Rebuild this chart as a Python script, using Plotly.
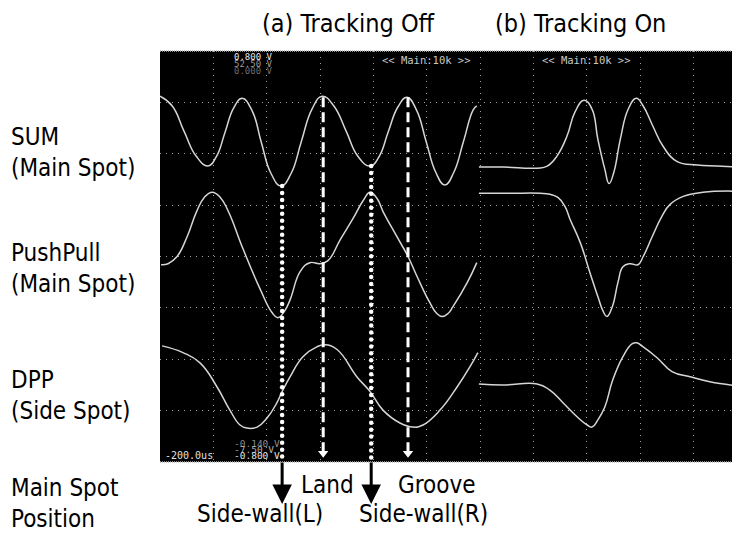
import numpy as np
import plotly.graph_objects as go

# ---------------- data (screen divisions: x = time div, y = level div) ----------------
sum_a_t = [0, 0.23, 0.45, 0.68, 0.90, 1.06, 1.22, 1.38, 1.54, 1.73, 1.90, 2.08, 2.27, 2.46, 2.65,
           2.85, 3.04, 3.26, 3.49, 3.71, 3.94, 4.11, 4.28, 4.46, 4.63, 4.81, 4.99, 5.17, 5.34,
           5.51, 5.69, 5.87, 5.94]
sum_a_v = [7.12, 6.93, 6.44, 5.95, 5.76, 5.95, 6.42, 6.89, 7.08, 6.83, 6.22, 5.62, 5.37, 5.62, 6.24,
           6.87, 7.12, 6.93, 6.44, 5.95, 5.76, 5.95, 6.43, 6.91, 7.10, 6.85, 6.24, 5.64, 5.39,
           5.64, 6.24, 6.85, 6.93]

pp_a_t = [0.02, 0.15, 0.32, 0.51, 0.68, 0.83, 0.98, 1.13, 1.28, 1.56, 1.88, 2.10, 2.21, 2.33, 2.44,
          2.63, 2.81, 3.00, 3.15, 3.38, 3.62, 3.81, 3.94, 4.07, 4.18, 4.44, 4.65, 4.82, 5.06,
          5.19, 5.29, 5.40, 5.49, 5.76, 5.94]
pp_a_v = [3.84, 3.86, 4.00, 4.39, 4.86, 5.15, 5.25, 5.15, 4.88, 4.14, 3.36, 2.91, 2.81, 2.93, 3.16,
          3.71, 3.88, 3.86, 3.92, 4.33, 4.74, 5.09, 5.25, 5.13, 4.88, 4.39, 4.00, 3.61, 3.10,
          2.89, 2.83, 2.89, 3.02, 3.49, 3.88]

dpp_a_t = [0.04, 0.43, 0.75, 1.07, 1.31, 1.50, 1.63, 1.82, 2.01, 2.19, 2.29, 2.44, 2.68, 2.94, 3.09,
           3.32, 3.69, 3.94, 4.18, 4.50, 4.74, 4.93, 5.25, 5.57, 5.81, 5.96]
dpp_a_v = [2.26, 2.13, 1.93, 1.46, 1.01, 0.72, 0.66, 0.68, 0.86, 1.15, 1.37, 1.66, 2.05, 2.24, 2.28,
           2.19, 1.66, 1.37, 1.01, 0.76, 0.68, 0.72, 1.01, 1.46, 1.85, 2.13]

sum_b_t = [5.98, 6.43, 7.07, 7.26, 7.44, 7.63, 7.78, 7.95, 8.10, 8.21, 8.34, 8.42, 8.51, 8.63, 8.78,
           8.93, 9.06, 9.24, 9.43, 9.69, 10.07, 10.44, 10.86]
sum_b_v = [5.74, 5.74, 5.72, 5.76, 5.95, 6.34, 6.81, 7.04, 6.87, 6.28, 5.70, 5.42, 5.64, 6.28, 6.87,
           7.08, 6.93, 6.54, 6.15, 5.85, 5.78, 5.76, 5.74]

pp_b_t = [5.98, 6.56, 7.13, 7.31, 7.46, 7.59, 7.69, 7.88, 8.06, 8.21, 8.31, 8.38, 8.48, 8.59, 8.68,
          8.81, 8.96, 9.06, 9.23, 9.41, 9.56, 9.81, 10.18, 10.86]
pp_b_v = [5.23, 5.23, 5.23, 5.21, 5.15, 4.98, 4.72, 4.27, 3.69, 3.22, 2.93, 2.83, 3.02, 3.51, 3.80,
          3.86, 3.84, 4.00, 4.39, 4.78, 5.01, 5.17, 5.25, 5.27]

dpp_b_t = [5.98, 6.43, 7.07, 7.31, 7.56, 7.82, 8.01, 8.10, 8.21, 8.34, 8.49, 8.68, 8.85, 8.94, 9.06,
           9.32, 9.60, 9.94, 10.31, 10.86]
dpp_b_v = [1.52, 1.50, 1.52, 1.40, 1.15, 0.88, 0.72, 0.68, 0.82, 1.07, 1.60, 2.05, 2.30, 2.32, 2.24,
           2.03, 1.76, 1.66, 1.56, 1.48]

# marker positions (time div) and their top levels
sidewall_t = [2.29, 3.96]          # Side-wall(L), Side-wall(R)
sidewall_top = [5.37, 5.76]
landgroove_t = [3.06, 4.65]        # Land, Groove
landgroove_top = [7.10, 7.10]

row_labels = ["SUM<br>(Main Spot)", "PushPull<br>(Main Spot)", "DPP<br>(Side Spot)", "Main Spot<br>Position"]
titles = ["(a) Tracking Off", "(b) Tracking On"]
pos_labels = ["Land", "Groove", "Side-wall(L)", "Side-wall(R)"]

# ---------------- layout geometry ----------------
OFF = 8                      # page body margin of the browser
W, H = 740 - OFF, 534 - OFF
ML, MR, MT, MB = 160 - OFF, 0, 51 - OFF, 72
XMAX, YMAX = 10.875, 8
PW, PH = W - ML - MR, H - MT - MB


def px_x(px):
    return (px - OFF - ML) / PW


def px_y(py):
    return (H - MB - (py - OFF)) / PH


FONT = "DejaVu Sans Condensed, DejaVu Sans, sans-serif"
MONO = "DejaVu Sans Mono, monospace"
TRACE = dict(color="#d6d6d6", width=1.5, shape="spline", smoothing=1.3)

fig = go.Figure()
for t, v in [(sum_a_t, sum_a_v), (pp_a_t, pp_a_v), (dpp_a_t, dpp_a_v),
             (sum_b_t, sum_b_v), (pp_b_t, pp_b_v), (dpp_b_t, dpp_b_v)]:
    fig.add_trace(go.Scatter(x=t, y=v, mode="lines", line=TRACE, hoverinfo="skip"))

# dotted side-wall markers
for t0, top in zip(sidewall_t, sidewall_top):
    ys = np.arange(top, 0.05, -0.135)
    fig.add_trace(go.Scatter(x=[t0] * len(ys), y=ys, mode="markers",
                             marker=dict(symbol="circle", size=4.5, color="white"), hoverinfo="skip"))

# dashed land/groove markers with triangle heads
for t0, top in zip(landgroove_t, landgroove_top):
    fig.add_trace(go.Scatter(x=[t0, t0], y=[top, 0.2], mode="lines",
                             line=dict(color="white", width=3, dash="10px,5px"), hoverinfo="skip"))
    fig.add_trace(go.Scatter(x=[t0], y=[0.17], mode="markers",
                             marker=dict(symbol="triangle-down", size=9, color="white"), hoverinfo="skip"))

ann = []
# row labels
for txt, cy in zip(row_labels, [152.5, 268.5, 395.5, 503.5]):
    ann.append(dict(text=txt, xref="paper", yref="paper", x=px_x(9), y=px_y(cy),
                    xanchor="left", yanchor="middle", align="left", showarrow=False,
                    font=dict(family=FONT, size=24, color="black")))
# titles
for txt, cx in zip(titles, [348, 580]):
    ann.append(dict(text=txt, xref="paper", yref="paper", x=px_x(cx), y=px_y(23),
                    xanchor="center", yanchor="middle", showarrow=False,
                    font=dict(family=FONT, size=25, color="black")))
# position labels
for txt, cx, cy in zip(pos_labels, [327.5, 436.5, 260, 423], [485, 485, 514, 514]):
    ann.append(dict(text=txt, xref="paper", yref="paper", x=px_x(cx), y=px_y(cy),
                    xanchor="center", yanchor="middle", showarrow=False,
                    font=dict(family=FONT, size=24, color="black")))
# black arrows below the screen
for t0 in sidewall_t:
    ann.append(dict(text="", xref="x", yref="paper", x=t0, y=px_y(504), ax=0, ay=-43,
                    showarrow=True, arrowhead=2, arrowsize=1.3, arrowwidth=3, arrowcolor="black",
                    standoff=0))
# scope readouts
scope_txt = [("0.800 V", 232, 57, "#e8e8e8", 9), ("52.50 V", 232, 64, "#9a9a9a", 9),
             ("0.000 V", 232, 71, "#6a6a6a", 9),
             ("<< Main:10k >>", 380, 60, "#c8c8c8", 10.5), ("<< Main:10k >>", 540, 60, "#c8c8c8", 10.5),
             ("-0.140 V", 232, 443, "#8a8a8a", 9.5), ("-7.50 V", 232, 449, "#b0b0b0", 9.5),
             ("-0.800 V", 232, 455, "#e0e0e0", 9.5), ("-200.0us", 163, 455, "#e0e0e0", 10)]
for txt, x0, cy, col, fs in scope_txt:
    ann.append(dict(text=txt, xref="paper", yref="paper", x=px_x(x0), y=px_y(cy),
                    xanchor="left", yanchor="middle", showarrow=False,
                    font=dict(family=MONO, size=fs, color=col)))

# light edges of the scope screen
shapes = [dict(type="line", xref="paper", yref="paper", x0=0, x1=1, y0=1, y1=1,
               line=dict(color="#b8b8b8", width=1.5, dash="1px,1px")),
          dict(type="line", xref="paper", yref="paper", x0=0, x1=1, y0=0, y1=0,
               line=dict(color="#b8b8b8", width=1.5, dash="1px,1px"))]

fig.update_layout(
    width=W, height=H, margin=dict(l=ML, r=MR, t=MT, b=MB, pad=0),
    paper_bgcolor="white", plot_bgcolor="black", showlegend=False,
    annotations=ann, shapes=shapes,
)
fig.update_xaxes(range=[0, XMAX], dtick=1, tick0=0, showgrid=True, gridcolor="#a0a0a0", gridwidth=1,
                 griddash="1px,5px", zeroline=False, showticklabels=False, ticks="", showline=False,
                 fixedrange=True)
fig.update_yaxes(range=[0, YMAX], dtick=1, tick0=0, showgrid=True, gridcolor="#a0a0a0", gridwidth=1,
                 griddash="1px,5px", zeroline=False, showticklabels=False, ticks="", showline=False,
                 fixedrange=True)

fig.write_html("out.html")
